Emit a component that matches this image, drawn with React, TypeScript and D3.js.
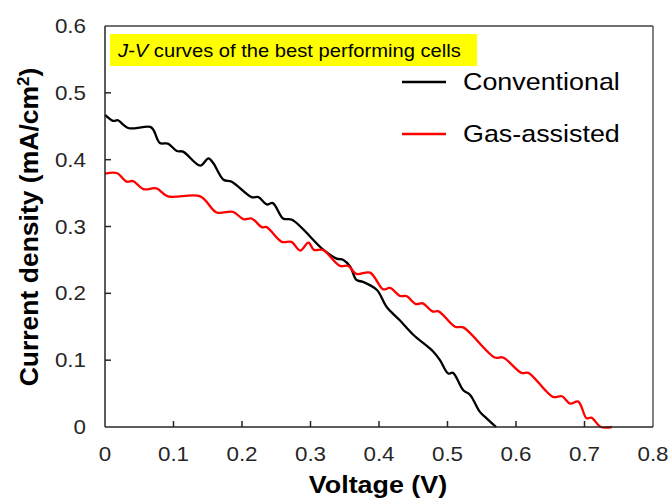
import React from 'react'
import * as d3 from 'd3'

// J-V data: [voltage V, current density mA/cm2]
const conventional: [number, number][] = [
  [0, 0.467], [0.012, 0.458], [0.019, 0.459], [0.027, 0.452], [0.035, 0.447],
  [0.066, 0.449], [0.071, 0.444], [0.08, 0.425], [0.092, 0.424], [0.105, 0.413],
  [0.114, 0.412], [0.139, 0.391], [0.151, 0.402], [0.158, 0.395], [0.173, 0.37],
  [0.185, 0.367], [0.214, 0.344], [0.224, 0.344], [0.236, 0.333], [0.245, 0.335],
  [0.26, 0.312], [0.273, 0.31], [0.319, 0.265], [0.338, 0.252], [0.348, 0.25],
  [0.358, 0.24], [0.367, 0.22], [0.377, 0.217], [0.397, 0.205], [0.411, 0.18],
  [0.43, 0.16], [0.45, 0.138], [0.479, 0.113], [0.489, 0.1], [0.501, 0.08],
  [0.508, 0.081], [0.523, 0.055], [0.533, 0.048], [0.547, 0.023], [0.557, 0.013],
  [0.571, 0],
]

const gasAssisted: [number, number][] = [
  [0, 0.379], [0.017, 0.38], [0.032, 0.367], [0.041, 0.368], [0.056, 0.356],
  [0.075, 0.357], [0.092, 0.345], [0.139, 0.345], [0.163, 0.321], [0.187, 0.322],
  [0.202, 0.311], [0.214, 0.312], [0.229, 0.299], [0.236, 0.299], [0.258, 0.277],
  [0.272, 0.277], [0.285, 0.264], [0.297, 0.276], [0.305, 0.265], [0.318, 0.265],
  [0.343, 0.241], [0.355, 0.241], [0.367, 0.229], [0.387, 0.231], [0.406, 0.206],
  [0.416, 0.208], [0.431, 0.196], [0.44, 0.196], [0.454, 0.184], [0.464, 0.185],
  [0.478, 0.173], [0.487, 0.173], [0.511, 0.15], [0.523, 0.149], [0.569, 0.104],
  [0.581, 0.104], [0.608, 0.081], [0.618, 0.081], [0.654, 0.045], [0.667, 0.046],
  [0.679, 0.035], [0.691, 0.038], [0.703, 0.013], [0.71, 0.014], [0.724, 0],
  [0.74, 0],
]

const xTicks = [0, 0.1, 0.2, 0.3, 0.4, 0.5, 0.6, 0.7, 0.8]
const yTicks = [0, 0.1, 0.2, 0.3, 0.4, 0.5, 0.6]

const series = [
  { name: 'Conventional', colour: '#000000', data: conventional },
  { name: 'Gas-assisted', colour: '#ff0000', data: gasAssisted },
]

const font = 'Arial, "Liberation Sans", sans-serif'
// the source picture is a bit wider than tall, so text is stretched sideways
const stretch = 1.12

function fmt(t: number) {
  return t === 0 ? '0' : t.toFixed(1)
}

export default function App() {
  const width = 670
  const height = 501
  const left = 105
  const right = 653
  const top = 26
  const bottom = 427

  const x = d3.scaleLinear().domain([0, 0.8]).range([left, right])
  const y = d3.scaleLinear().domain([0, 0.6]).range([bottom, top])

  const line = d3.line<[number, number]>()
    .x(d => x(d[0]))
    .y(d => y(d[1]))
    .curve(d3.curveCatmullRom.alpha(0.5))

  return (
    <svg width={width} height={height} style={{ position: 'absolute', left: 0, top: 0 }}>
      <rect x={0} y={0} width={width} height={height} fill="#fff" />

      {/* frame */}
      <line x1={left} x2={right} y1={top} y2={top} stroke="#404040" strokeWidth={1.5} />
      <line x1={right} x2={right} y1={top} y2={bottom} stroke="#595959" strokeWidth={1.5} />

      {/* ticks */}
      {yTicks.slice(1, -1).map(t => (
        <line key={`yt${t}`} x1={left} x2={left + 6} y1={y(t)} y2={y(t)} stroke="#262626" strokeWidth={1.5} />
      ))}
      {xTicks.slice(1, -1).map(t => (
        <line key={`xt${t}`} x1={x(t)} x2={x(t)} y1={bottom} y2={bottom - 6} stroke="#262626" strokeWidth={1.5} />
      ))}

      {/* annotation */}
      <rect x={110} y={34} width={367} height={32} fill="#ffff00" />
      <text transform={`translate(118, 57) scale(${stretch}, 1)`} fontFamily={font} fontSize={18} fill="#000">
        <tspan fontStyle="italic">J-V</tspan> curves of the best performing cells
      </text>

      {/* curves */}
      {series.map(s => (
        <path key={s.name} d={line(s.data) || ''} fill="none" stroke={s.colour} strokeWidth={2.3} strokeLinejoin="round" />
      ))}

      {/* axes */}
      <line x1={left} x2={left} y1={top} y2={bottom} stroke="#262626" strokeWidth={1.5} />
      <line x1={left} x2={right} y1={bottom} y2={bottom} stroke="#262626" strokeWidth={1.5} />

      {yTicks.map(t => (
        <text key={`yl${t}`} transform={`translate(86, ${y(t)}) scale(${stretch}, 1)`} dy="0.35em" textAnchor="end"
          fontFamily={font} fontSize={20} fill="#262626">{fmt(t)}</text>
      ))}
      {xTicks.map(t => (
        <text key={`xl${t}`} transform={`translate(${x(t)}, 461) scale(${stretch}, 1)`} textAnchor="middle"
          fontFamily={font} fontSize={20} fill="#262626">{fmt(t)}</text>
      ))}

      {/* legend */}
      {series.map((s, i) => (
        <g key={`lg${s.name}`} transform={`translate(0, ${82 + i * 52})`}>
          <line x1={402} x2={446} y1={0} y2={0} stroke={s.colour} strokeWidth={2.3} />
          <text transform={`translate(463, 8) scale(${stretch}, 1)`} fontFamily={font} fontSize={24} fill="#000">{s.name}</text>
        </g>
      ))}

      {/* axis titles */}
      <text transform={`translate(378, 493) scale(${stretch}, 1)`} textAnchor="middle" fontFamily={font} fontSize={24}
        fontWeight="bold" fill="#000">
        Voltage (V)
      </text>
      <text transform="translate(38, 227) rotate(-90)" textAnchor="middle" fontFamily={font} fontSize={26.5}
        fontWeight="bold" fill="#000">
        Current density (mA/cm<tspan dy="-9" fontSize={17}>2</tspan><tspan dy="9">)</tspan>
      </text>
    </svg>
  )
}
